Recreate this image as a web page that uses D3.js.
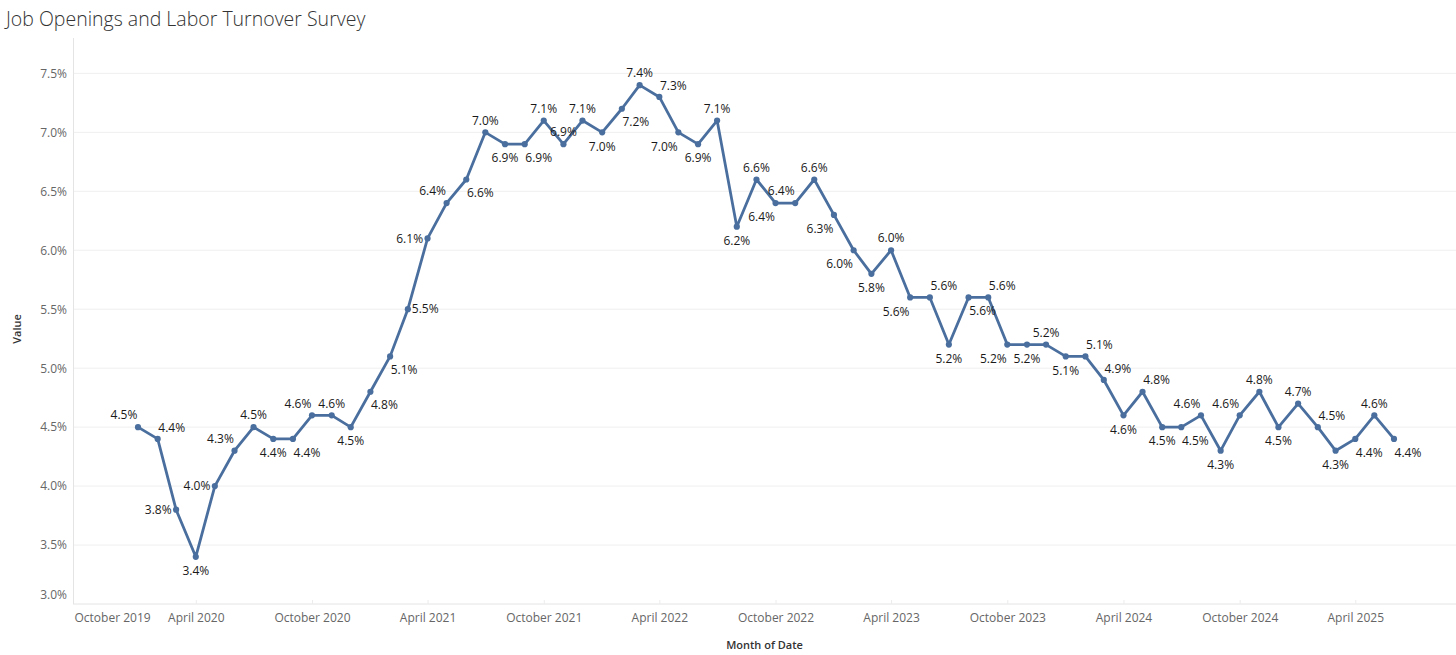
<!DOCTYPE html>
<html>
<head>
<meta charset="utf-8">
<script src="https://cdn.jsdelivr.net/npm/d3@7"></script>
<style>
  body { margin: 0; background: #fff; }
  text { font-family: "Open Sans", sans-serif; }
</style>
</head>
<body>
<div id="chart"></div>
<script>
// monthly openings rate, Jan 2020 .. Jun 2025
const months = [
  "2020-01", "2020-02", "2020-03", "2020-04", "2020-05", "2020-06", "2020-07", "2020-08", "2020-09", "2020-10", "2020-11", "2020-12",
  "2021-01", "2021-02", "2021-03", "2021-04", "2021-05", "2021-06", "2021-07", "2021-08", "2021-09", "2021-10", "2021-11", "2021-12",
  "2022-01", "2022-02", "2022-03", "2022-04", "2022-05", "2022-06", "2022-07", "2022-08", "2022-09", "2022-10", "2022-11", "2022-12",
  "2023-01", "2023-02", "2023-03", "2023-04", "2023-05", "2023-06", "2023-07", "2023-08", "2023-09", "2023-10", "2023-11", "2023-12",
  "2024-01", "2024-02", "2024-03", "2024-04", "2024-05", "2024-06", "2024-07", "2024-08", "2024-09", "2024-10", "2024-11", "2024-12",
  "2025-01", "2025-02", "2025-03", "2025-04", "2025-05", "2025-06"
]
const values = [
  4.5, 4.4, 3.8, 3.4, 4.0, 4.3, 4.5, 4.4, 4.4, 4.6, 4.6, 4.5,
  4.8, 5.1, 5.5, 6.1, 6.4, 6.6, 7.0, 6.9, 6.9, 7.1, 6.9, 7.1,
  7.0, 7.2, 7.4, 7.3, 7.0, 6.9, 7.1, 6.2, 6.6, 6.4, 6.4, 6.6,
  6.3, 6.0, 5.8, 6.0, 5.6, 5.6, 5.2, 5.6, 5.6, 5.2, 5.2, 5.2,
  5.1, 5.1, 4.9, 4.6, 4.8, 4.5, 4.5, 4.6, 4.3, 4.6, 4.8, 4.5,
  4.7, 4.5, 4.3, 4.4, 4.6, 4.4
]
const xTickLabels = [
  "October 2019", "April 2020", "October 2020", "April 2021", "October 2021", "April 2022",
  "October 2022", "April 2023", "October 2023", "April 2024", "October 2024", "April 2025"
]
const yTickValues = [3.0, 3.5, 4.0, 4.5, 5.0, 5.5, 6.0, 6.5, 7.0, 7.5]

// where each mark label sits relative to its point (as Tableau placed them)
const labelSide = [
  "TL", "TR", "L", "B", "L", "TL", "T", "B", "BR", "TL", "T", "B",
  "BR", "BR", "R", "L", "TL", "BR", "T", "B", "BR", "T", "T", "T",
  "B", "BR", "T", "TR", "BL", "B", "T", "B", "T", "BL", "TL", "T",
  "BL", "BL", "B", "T", "BL", "TR", "B", "BR", "TR", "BL", "B", "T",
  "B", "TR", "TR", "B", "TR", "B", "BR", "TL", "B", "TL", "T", "B",
  "T", "TR", "B", "BR", "T", "BR"
]

const W = 1456, H = 655
const plot = { left: 73, right: 1456, top: 38, bottom: 604 }

const parseMonth = d3.timeParse("%Y-%m")
const parseTick = d3.timeParse("%B %Y")
const data = months.map((m, i) => ({ date: parseMonth(m), value: values[i], side: labelSide[i] }))

const svg = d3.select("#chart")
  .append("svg")
  .attr("width", W)
  .attr("height", H)

const x = d3.scaleTime()
  .domain(d3.extent(data, d => d.date))
  .range([plot.left + 65, plot.right - 62])

const y = d3.scaleLinear()
  .domain([3.0, 7.8])
  .range([plot.bottom, plot.top])

// title
svg.append("text")
  .attr("x", 6)
  .attr("y", 26)
  .style("font-size", "19.5px")
  .style("font-weight", 300)
  .style("fill", "#333")
  .text("Job Openings and Labor Turnover Survey")

// horizontal gridlines
svg.selectAll(".grid")
  .data(yTickValues)
  .join("line")
  .attr("x1", plot.left)
  .attr("x2", plot.right)
  .attr("y1", d => y(d))
  .attr("y2", d => y(d))
  .attr("stroke", (d, i) => i === 0 ? "#e4e4e4" : "#efefef")
  .attr("stroke-width", 1)

// left axis line
svg.append("line")
  .attr("x1", plot.left + 0.5)
  .attr("x2", plot.left + 0.5)
  .attr("y1", plot.top)
  .attr("y2", plot.bottom)
  .attr("stroke", "#e4e4e4")

// y axis
const yAxis = svg.append("g")
  .attr("transform", `translate(${plot.left},0)`)
  .call(d3.axisLeft(y)
    .tickValues(yTickValues)
    .tickFormat(d => d3.format(".1f")(d) + "%")
    .tickSize(0)
    .tickPadding(6))
  .call(g => g.select(".domain").remove())
yAxis.selectAll(".tick text")
  .style("font-size", "12px")
  .style("fill", "#666")
  .style("font-family", "'Open Sans', sans-serif")
  .attr("dy", (d, i) => i === 0 ? "-0.5em" : "0.32em")

svg.append("text")
  .attr("transform", `translate(21,${(plot.top + plot.bottom) / 2 + 8}) rotate(-90)`)
  .style("text-anchor", "middle")
  .style("font-size", "11px")
  .style("font-weight", 600)
  .style("fill", "#333")
  .text("Value")

// x axis
const xTicks = xTickLabels.map(t => parseTick(t))
const xAxis = svg.append("g")
  .attr("transform", `translate(0,${plot.bottom})`)
  .call(d3.axisBottom(x)
    .tickValues(xTicks)
    .tickFormat(d3.timeFormat("%B %Y"))
    .tickSize(0)
    .tickPadding(9))
  .call(g => g.select(".domain").remove())
xAxis.selectAll(".tick line").remove()
xAxis.selectAll(".tick")
  .filter((d, i) => i > 0)
  .append("line")
  .attr("y1", 0)
  .attr("y2", -4)
  .attr("stroke", "#ececec")
xAxis.selectAll(".tick text")
  .style("font-size", "12px")
  .style("fill", "#666")
  .style("font-family", "'Open Sans', sans-serif")
  .each(function () {
    // keep the first label inside the pane like Tableau does
    const box = this.getBBox()
    const tx = x(d3.select(this.parentNode).datum())
    if (tx + box.x < plot.left) {
      d3.select(this).attr("x", plot.left - tx - box.x + 1)
    }
  })

svg.append("text")
  .attr("x", (plot.left + plot.right) / 2)
  .attr("y", 649)
  .style("text-anchor", "middle")
  .style("font-size", "11px")
  .style("font-weight", 600)
  .style("fill", "#333")
  .text("Month of Date")

// line + points
const line = d3.line()
  .x(d => x(d.date))
  .y(d => y(d.value))

svg.append("path")
  .datum(data)
  .attr("fill", "none")
  .attr("stroke", "#4a6f9e")
  .attr("stroke-width", 2.8)
  .attr("stroke-linejoin", "round")
  .attr("d", line)

svg.selectAll(".pt")
  .data(data)
  .join("circle")
  .attr("cx", d => x(d.date))
  .attr("cy", d => y(d.value))
  .attr("r", 3.1)
  .attr("fill", "#4a6f9e")

// mark labels
const offsets = {
  T: [0, -12, "middle"],
  B: [0, 14, "middle"],
  TL: [-14, -12, "middle"],
  TR: [14, -11.5, "middle"],
  BL: [-14, 14, "middle"],
  BR: [14, 13.5, "middle"],
  L: [-4.5, 0, "end"],
  R: [4, 0, "start"]
}

svg.selectAll(".lbl")
  .data(data)
  .join("text")
  .attr("x", d => x(d.date) + offsets[d.side][0])
  .attr("y", d => y(d.value) + offsets[d.side][1])
  .attr("dy", "0.35em")
  .style("text-anchor", d => offsets[d.side][2])
  .style("font-size", "12px")
  .style("fill", "#1a1a1a")
  .text(d => d3.format(".1f")(d.value) + "%")
</script>
</body>
</html>
